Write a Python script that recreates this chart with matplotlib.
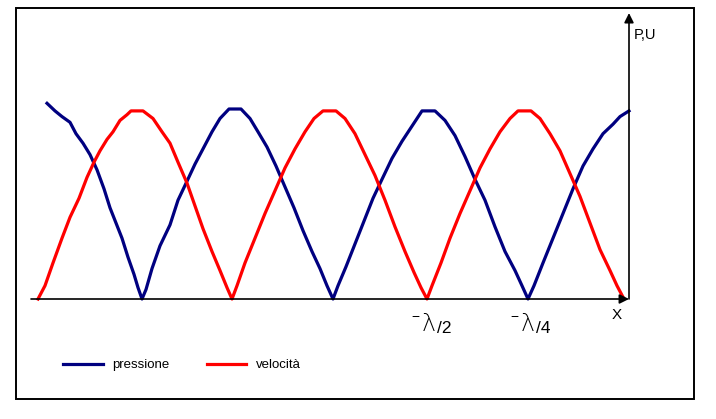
import numpy as np
import matplotlib.pyplot as plt
from matplotlib.patches import Rectangle

# curves: x along the axis, y normalised amplitude
x_p = [14, 22, 29, 37, 43, 50, 57, 64, 71, 77, 83, 89, 95, 101, 105, 109,
       113, 119, 127, 137, 145, 154, 162, 170, 179, 187, 196, 208, 217, 225,
       234, 243, 252, 261, 270, 279, 287, 294, 300, 305, 313, 322, 331, 340,
       349, 359, 369, 379, 389, 402, 412, 422, 432, 442, 452, 462, 472, 482,
       489, 495, 501, 510, 520, 530, 540, 550, 560, 570, 580, 587, 596]
y_p = [1.03, 0.99, 0.96, 0.93, 0.87, 0.82, 0.76, 0.68, 0.58, 0.48, 0.40,
       0.32, 0.22, 0.13, 0.06, 0.0, 0.05, 0.16, 0.28, 0.39, 0.52, 0.62, 0.71,
       0.79, 0.88, 0.95, 1.0, 1.0, 0.95, 0.88, 0.80, 0.70, 0.59, 0.48, 0.36,
       0.25, 0.16, 0.07, 0.0, 0.07, 0.17, 0.29, 0.41, 0.53, 0.63, 0.74, 0.83,
       0.91, 0.99, 0.99, 0.94, 0.86, 0.75, 0.63, 0.52, 0.38, 0.25, 0.15, 0.07,
       0.0, 0.07, 0.19, 0.32, 0.45, 0.58, 0.70, 0.79, 0.87, 0.92, 0.96, 0.99]

x_u = [5, 12, 20, 29, 37, 46, 54, 61, 67, 74, 80, 87, 94, 98, 110, 120, 129,
       137, 145, 154, 162, 170, 179, 187, 194, 199, 204, 212, 222, 232, 242,
       252, 262, 272, 281, 290, 303, 312, 322, 332, 342, 352, 362, 372, 381,
       388, 394, 399, 408, 417, 427, 437, 447, 457, 467, 477, 485, 498, 507,
       517, 527, 537, 547, 557, 567, 577, 584, 591]
y_u = [0.0, 0.07, 0.19, 0.32, 0.43, 0.53, 0.64, 0.72, 0.78, 0.84, 0.88, 0.94,
       0.97, 0.99, 0.99, 0.95, 0.88, 0.82, 0.72, 0.61, 0.49, 0.37, 0.25, 0.15,
       0.06, 0.0, 0.07, 0.19, 0.32, 0.45, 0.57, 0.69, 0.79, 0.88, 0.95, 0.99,
       0.99, 0.95, 0.87, 0.76, 0.65, 0.52, 0.38, 0.25, 0.14, 0.06, 0.0, 0.07,
       0.19, 0.32, 0.45, 0.57, 0.69, 0.79, 0.88, 0.95, 0.99, 0.99, 0.95, 0.87,
       0.78, 0.66, 0.54, 0.40, 0.26, 0.15, 0.07, 0.0]

labels = ['pressione', 'velocità']
colors = ['#000080', '#ff0000']

plt.rcParams['font.family'] = ['Liberation Sans', 'DejaVu Sans']

W, H = 716, 419
fig = plt.figure(figsize=(W / 100, H / 100), dpi=100)
ax = fig.add_axes([0, 0, 1, 1])
ax.set_xlim(-33, W - 33)
ax.set_ylim((299 - H) / 190, 299 / 190)
ax.axis('off')

# outer frame
fig.patches.append(Rectangle((16 / W, 1 - 399 / H), 678 / W, 391 / H,
                             transform=fig.transFigure, fill=False,
                             edgecolor='black', linewidth=1.4))

ax.plot(x_p, y_p, color=colors[0], linewidth=2.3, label=labels[0],
        solid_joinstyle='round')
ax.plot(x_u, y_u, color=colors[1], linewidth=2.3, label=labels[1],
        solid_joinstyle='round')

# axes with arrows
arr = dict(arrowstyle='-|>', color='black', lw=1.2, mutation_scale=14,
           shrinkA=0, shrinkB=0)
ax.annotate('', xy=(596, 0), xytext=(-2, 0), arrowprops=arr)
ax.annotate('', xy=(596, 1.505), xytext=(596, 0), arrowprops=arr)

ax.text(601, 1.39, 'P,U', fontsize=10.5, va='center', ha='left')
ax.text(579, -0.085, 'X', fontsize=11, va='center', ha='left')

for xl, txt in [(378, '/2'), (477, '/4')]:
    ax.text(xl, -0.095, '−', fontsize=10, va='center', ha='left')
    ax.text(xl + 11, -0.13, 'λ', fontsize=17, va='center', ha='left',
            fontweight='light', family=['DejaVu Sans'])
    ax.text(xl + 26, -0.155, txt, fontsize=12.5, va='center', ha='left')

ax.legend(loc='center left', bbox_to_anchor=(63 / W, 1 - 365 / H),
          bbox_transform=fig.transFigure, ncol=2, frameon=False,
          fontsize=9.5, handlelength=3.0, handletextpad=0.75,
          columnspacing=2.8, borderpad=0, borderaxespad=0)

fig.savefig('out.png', dpi=100)
